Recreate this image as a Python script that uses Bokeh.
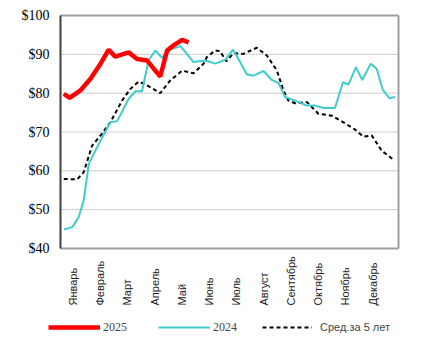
import math
from bokeh.plotting import figure
from bokeh.models import Legend, LegendItem, Range1d
from bokeh.core.properties import value
from bokeh.embed import file_html
from bokeh.resources import INLINE

# ---- data ----
months = ["Январь", "Февраль", "Март", "Апрель", "Май", "Июнь", "Июль",
          "Август", "Сентябрь", "Октябрь", "Ноябрь", "Декабрь"]
month_pos = list(range(12))

x_2025 = [-0.33, -0.11, 0.28, 0.65, 1.02, 1.32, 1.56, 2.05, 2.36, 2.73, 2.97,
          3.21, 3.46, 3.70, 4.01, 4.25]
y_2025 = [79.8, 78.8, 80.7, 83.7, 87.6, 91.2, 89.4, 90.5, 88.8, 88.4, 86.3,
          84.3, 91.0, 92.3, 93.7, 93.1]

x_2024 = [-0.33, -0.02, 0.22, 0.40, 0.59, 1.02, 1.38, 1.63, 2.05, 2.30, 2.54,
          2.78, 3.03, 3.27, 3.58, 3.95, 4.43, 4.86, 5.23, 5.59, 5.88, 6.14,
          6.39, 6.63, 7.00, 7.30, 7.55, 7.79, 8.22, 8.59, 8.89, 9.20, 9.62,
          9.91, 10.11, 10.39, 10.62, 10.93, 11.15, 11.37, 11.61, 11.82]
y_2024 = [44.9, 45.5, 48.1, 52.4, 61.8, 67.8, 72.5, 72.8, 78.5, 80.5, 80.5,
          88.4, 91.0, 89.1, 91.2, 92.1, 88.0, 88.4, 87.6, 88.6, 91.2, 88.0,
          84.8, 84.5, 85.7, 83.4, 82.6, 79.0, 77.9, 76.8, 76.8, 76.2, 76.2,
          82.8, 82.2, 86.7, 83.4, 87.6, 86.3, 80.9, 78.7, 79.0]

x_avg = [-0.33, 0.16, 0.40, 0.71, 1.02, 1.38, 1.81, 2.11, 2.42, 2.73, 3.21,
         3.58, 4.01, 4.43, 4.80, 4.92, 5.23, 5.41, 5.63, 5.90, 6.26, 6.75,
         7.12, 7.49, 7.73, 7.91, 8.16, 8.59, 9.01, 9.50, 9.93, 10.36, 10.66,
         10.97, 11.33, 11.80]
y_avg = [57.9, 57.8, 59.6, 66.5, 69.1, 72.5, 78.1, 81.1, 83.0, 82.0, 80.0,
         83.3, 85.8, 85.1, 87.6, 89.3, 91.0, 90.8, 88.2, 90.3, 90.1, 91.7,
         89.7, 85.8, 80.7, 78.1, 77.4, 77.7, 74.7, 74.2, 72.5, 70.6, 68.8,
         69.1, 65.2, 62.7]

y_ticks = [40, 50, 60, 70, 80, 90, 100]
y_tick_labels = ["$" + str(t) for t in y_ticks]

# ---- layout constants (pixels) ----
W, H = 429, 341
LEFT, RIGHT, TOP, BOTTOM = 60, 31, 15, 93
X0, X1 = -0.45, 11.95
Y0, Y1 = y_ticks[0], y_ticks[-1]
xs = (X1 - X0) / (W - LEFT - RIGHT)
ys = (Y1 - Y0) / (H - TOP - BOTTOM)

C2025, C2024, CAVG = "#FF0000", "#40CCCC", "black"
SERIF = "Times New Roman"
SANS = "Liberation Sans"

p = figure(width=W, height=H, output_backend="svg", toolbar_location=None,
           x_range=Range1d(X0 - LEFT * xs, X1 + RIGHT * xs),
           y_range=Range1d(Y0 - BOTTOM * ys, Y1 + TOP * ys),
           min_border=0, min_border_left=0, min_border_right=0,
           min_border_top=0, min_border_bottom=0)
p.axis.visible = False
p.grid.visible = False
p.outline_line_color = None
p.background_fill_color = "white"
p.border_fill_color = "white"

# grid lines (dotted) inside the plot box
inner = y_ticks[1:-1]
p.segment(x0=[X0] * len(inner), y0=inner, x1=[X1] * len(inner), y1=inner,
          line_color="#999999", line_width=1, line_dash="1 1")

# plot box: gray top/right/bottom, dark left axis
p.segment(x0=[X0, X1, X0], y0=[Y1, Y1, Y0], x1=[X1, X1, X1], y1=[Y1, Y0, Y0],
          line_color="#a0a0a0", line_width=2)
p.segment(x0=[X0], y0=[Y0], x1=[X0], y1=[Y1], line_color="#404040", line_width=2)

# y tick labels
p.text(x=[X0] * len(y_ticks), y=y_ticks, text=y_tick_labels, x_offset=-11,
       text_align="right", text_baseline="middle",
       text_font=value(SERIF), text_font_size="14px", text_color="black")

# month labels: bottom-aligned, reading upward
p.text(x=month_pos, y=[Y0] * 12, text=months, y_offset=57, angle=math.pi / 2,
       text_align="left", text_baseline="middle",
       text_font=value(SANS), text_font_size="11px", text_color="#222222")

r_avg = p.line(x_avg, y_avg, line_color=CAVG, line_width=2, line_dash="4 3")
r_2024 = p.line(x_2024, y_2024, line_color=C2024, line_width=2)
r_2025 = p.line(x_2025, y_2025, line_color=C2025, line_width=4.5)

leg1 = Legend(items=[LegendItem(label="2025", renderers=[r_2025]),
                     LegendItem(label="2024", renderers=[r_2024])],
              orientation="horizontal", location=(48, 4),
              glyph_width=52, glyph_height=20, label_standoff=3, spacing=31,
              padding=0, margin=0, border_line_color=None,
              background_fill_alpha=0,
              label_text_font=SERIF, label_text_font_size="12px")
leg2 = Legend(items=[LegendItem(label="Сред.за 5 лет", renderers=[r_avg])],
              orientation="horizontal", location=(262, 4),
              glyph_width=50, glyph_height=20, label_standoff=8,
              padding=0, margin=0, border_line_color=None,
              background_fill_alpha=0,
              label_text_font=SANS, label_text_font_size="11px")
p.add_layout(leg1)
p.add_layout(leg2)

open("out.html", "w").write(file_html(p, INLINE))
